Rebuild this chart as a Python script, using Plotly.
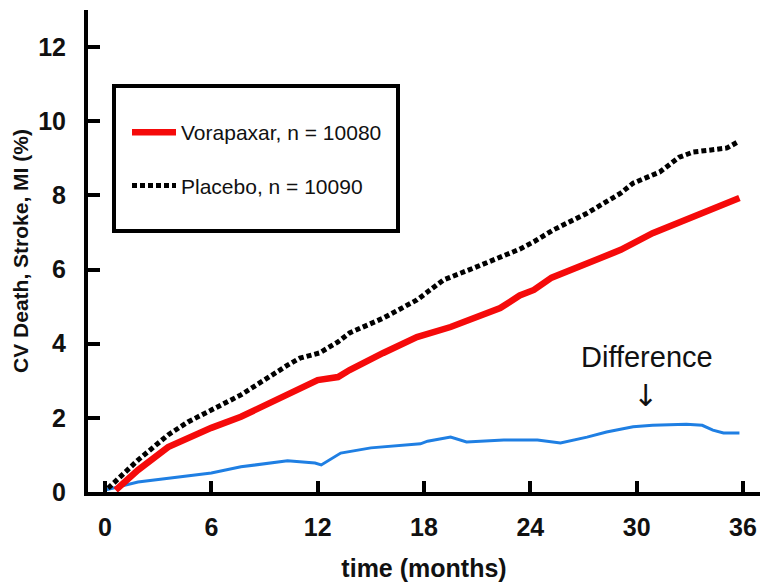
import plotly.graph_objects as go

# ---- data ----
vora_x = [0.6, 1.86, 3.56, 6.0, 7.67, 10.3, 12.0, 13.15, 13.8, 15.7, 17.6, 19.5, 21.0, 22.3,
          23.4, 24.2, 25.2, 27.2, 29.1, 30.9, 32.8, 34.7, 35.8]
vora_y = [0.05, 0.59, 1.21, 1.73, 2.03, 2.62, 3.02, 3.10, 3.29, 3.75, 4.18, 4.45, 4.72, 4.96,
          5.30, 5.45, 5.78, 6.18, 6.53, 6.98, 7.34, 7.74, 7.93]

plac_x = [0.17, 1.86, 3.56, 4.68, 6.0, 7.67, 10.3, 11.0, 12.1, 13.15, 13.8, 15.7, 17.6, 19.1,
          20.8, 22.3, 23.4, 24.2, 25.3, 27.2, 29.1, 29.8, 31.3, 32.4, 33.2, 34.1, 35.1, 35.7]
plac_y = [0.10, 0.86, 1.54, 1.89, 2.21, 2.62, 3.42, 3.61, 3.75, 4.05, 4.29, 4.69, 5.18, 5.72,
          6.04, 6.34, 6.55, 6.75, 7.07, 7.52, 8.06, 8.33, 8.63, 9.03, 9.17, 9.22, 9.28, 9.44]

diff_x = [0.0, 1.86, 6.0, 7.67, 10.3, 11.85, 12.2, 13.3, 15.0, 17.8, 18.2, 19.5, 20.4, 22.5,
          24.4, 25.7, 27.2, 28.3, 29.8, 30.9, 32.8, 33.7, 34.3, 34.9, 35.8]
diff_y = [0.05, 0.27, 0.51, 0.68, 0.84, 0.78, 0.73, 1.05, 1.19, 1.30, 1.37, 1.48, 1.35, 1.40,
          1.40, 1.32, 1.48, 1.62, 1.76, 1.80, 1.83, 1.80, 1.67, 1.59, 1.59]

x_ticks = [0, 6, 12, 18, 24, 30, 36]
y_ticks = [0, 2, 4, 6, 8, 10, 12]

series_names = ["Vorapaxar, n = 10080", "Placebo, n = 10090"]

FONT = "Arial, Liberation Sans, sans-serif"

fig = go.Figure()
fig.add_trace(go.Scatter(x=diff_x, y=diff_y, mode="lines", showlegend=False,
                         line=dict(color="#1f7fe3", width=3)))
fig.add_trace(go.Scatter(x=vora_x, y=vora_y, mode="lines", name=series_names[0],
                         legendgroup="a", legendrank=1,
                         line=dict(color="#f50a0a", width=6.5)))
fig.add_trace(go.Scatter(x=plac_x, y=plac_y, mode="lines", name=series_names[1],
                         legendgroup="b", legendrank=2,
                         line=dict(color="black", width=5, dash="5px,3px")))

fig.add_annotation(x=30.6, y=3.64, text="Difference", showarrow=False,
                   font=dict(family=FONT, size=29, color="#111"))
fig.add_annotation(x=30.5, y=2.6, text="↓", showarrow=False,
                   font=dict(family="DejaVu Sans", size=30, color="#111"))

# legend frame
fig.add_shape(type="rect", xref="paper", yref="paper",
              x0=(114 - 88) / 672, x1=(398 - 88) / 672,
              y0=(492 - 231) / 482, y1=(492 - 86) / 482,
              line=dict(color="black", width=4), fillcolor="rgba(0,0,0,0)")

fig.update_layout(
    width=760, height=585,
    margin=dict(l=88, r=0, t=10, b=93),
    paper_bgcolor="white", plot_bgcolor="white",
    showlegend=True,
    legend=dict(x=(131 - 88 - 4) / 672, y=(492 - 112) / 482, xanchor="left", yanchor="top",
                bgcolor="rgba(0,0,0,0)", borderwidth=0, tracegroupgap=23,
                traceorder="grouped",
                font=dict(family=FONT, size=21, color="#111"), itemwidth=44),
    xaxis=dict(range=[-0.96, 36.96], tickvals=x_ticks, ticktext=[str(v) for v in x_ticks],
               showline=True, linewidth=4, linecolor="black",
               ticks="inside", ticklen=11, tickwidth=4, tickcolor="black",
               showgrid=False, zeroline=False, ticklabelstandoff=10,
               tickfont=dict(family=FONT, size=25, color="#111", weight="bold"),
               title=dict(text="time (months)", standoff=20,
                          font=dict(family=FONT, size=25, color="#111", weight="bold"))),
    yaxis=dict(range=[0, 13], tickvals=y_ticks, ticktext=[str(v) for v in y_ticks],
               showline=True, linewidth=4, linecolor="black",
               ticks="inside", ticklen=12, tickwidth=4, tickcolor="black",
               showgrid=False, zeroline=False, ticklabelstandoff=13,
               tickfont=dict(family=FONT, size=25, color="#111", weight="bold"),
               title=dict(text="CV Death, Stroke, MI (%)", standoff=5,
                          font=dict(family=FONT, size=21, color="#111", weight="bold"))),
)

fig.write_html("out.html")
